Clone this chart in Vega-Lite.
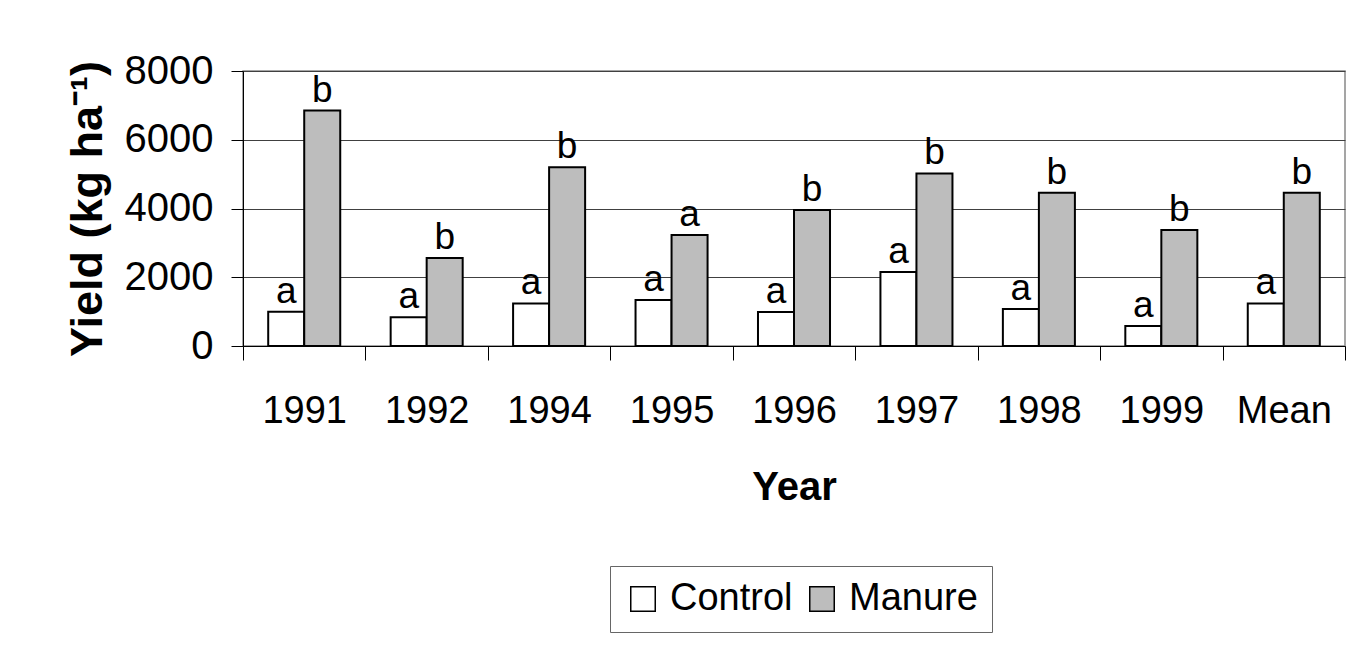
{
  "$schema": "https://vega.github.io/schema/vega-lite/v6.json",
  "width": 1102,
  "height": 275,
  "autosize": {"type": "none"},
  "padding": {"left": 243, "top": 71, "right": 3, "bottom": 302},
  "background": "white",
  "data": {
    "values": [
      {"year": "1991", "treatment": "Control", "yield": 1000, "letter": "a"},
      {"year": "1991", "treatment": "Manure", "yield": 6850, "letter": "b"},
      {"year": "1992", "treatment": "Control", "yield": 835, "letter": "a"},
      {"year": "1992", "treatment": "Manure", "yield": 2560, "letter": "b"},
      {"year": "1994", "treatment": "Control", "yield": 1240, "letter": "a"},
      {"year": "1994", "treatment": "Manure", "yield": 5200, "letter": "b"},
      {"year": "1995", "treatment": "Control", "yield": 1340, "letter": "a"},
      {"year": "1995", "treatment": "Manure", "yield": 3230, "letter": "a"},
      {"year": "1996", "treatment": "Control", "yield": 990, "letter": "a"},
      {"year": "1996", "treatment": "Manure", "yield": 3960, "letter": "b"},
      {"year": "1997", "treatment": "Control", "yield": 2150, "letter": "a"},
      {"year": "1997", "treatment": "Manure", "yield": 5020, "letter": "b"},
      {"year": "1998", "treatment": "Control", "yield": 1075, "letter": "a"},
      {"year": "1998", "treatment": "Manure", "yield": 4460, "letter": "b"},
      {"year": "1999", "treatment": "Control", "yield": 580, "letter": "a"},
      {"year": "1999", "treatment": "Manure", "yield": 3375, "letter": "b"},
      {"year": "Mean", "treatment": "Control", "yield": 1240, "letter": "a"},
      {"year": "Mean", "treatment": "Manure", "yield": 4460, "letter": "b"}
    ]
  },
  "encoding": {
    "x": {
      "field": "year",
      "type": "nominal",
      "sort": null,
      "scale": {"paddingInner": 0, "paddingOuter": 0},
      "axis": {
        "title": "Year",
        "labelAngle": 0,
        "labelFontSize": 38,
        "labelColor": "black",
        "tickSize": 14,
        "tickBand": "extent",
        "tickColor": "black",
        "domainColor": "black",
        "labelPadding": 32,
        "grid": false,
        "titleFontSize": 40,
        "titleFontWeight": "bold",
        "titleColor": "black",
        "titlePadding": 37
      }
    },
    "xOffset": {
      "field": "treatment",
      "type": "nominal",
      "scale": {"paddingInner": 0, "paddingOuter": 0.7}
    },
    "y": {
      "field": "yield",
      "type": "quantitative",
      "scale": {"domain": [0, 8000]},
      "axis": {
        "values": [0, 2000, 4000, 6000, 8000],
        "format": "d",
        "title": "Yield (kg ha⁻¹)",
        "labelFontSize": 40,
        "labelColor": "black",
        "tickSize": 12,
        "tickColor": "black",
        "domainColor": "black",
        "labelPadding": 18,
        "grid": true,
        "gridColor": "#404040",
        "titleFontSize": 45,
        "titleFontWeight": "bold",
        "titleColor": "black",
        "titlePadding": 14
      }
    }
  },
  "layer": [
    {
      "mark": {"type": "bar", "stroke": "black", "strokeWidth": 2},
      "encoding": {
        "fill": {
          "field": "treatment",
          "type": "nominal",
          "scale": {"domain": ["Control", "Manure"], "range": ["white", "#bdbdbd"]},
          "legend": {
            "title": null,
            "orient": "none",
            "legendX": 367,
            "legendY": 495,
            "direction": "horizontal",
            "strokeColor": "#666666",
            "fillColor": "white",
            "padding": 14,
            "symbolType": "square",
            "symbolSize": 600,
            "symbolStrokeColor": "black",
            "symbolStrokeWidth": 1.5,
            "labelFontSize": 38,
            "labelColor": "black",
            "labelOffset": 8,
            "columnPadding": 10
          }
        }
      }
    },
    {
      "mark": {"type": "text", "baseline": "alphabetic", "dy": -9, "fontSize": 37, "color": "black"},
      "encoding": {"text": {"field": "letter"}}
    }
  ],
  "config": {
    "font": "Liberation Sans",
    "view": {"stroke": "#888888", "strokeWidth": 1.5}
  }
}
